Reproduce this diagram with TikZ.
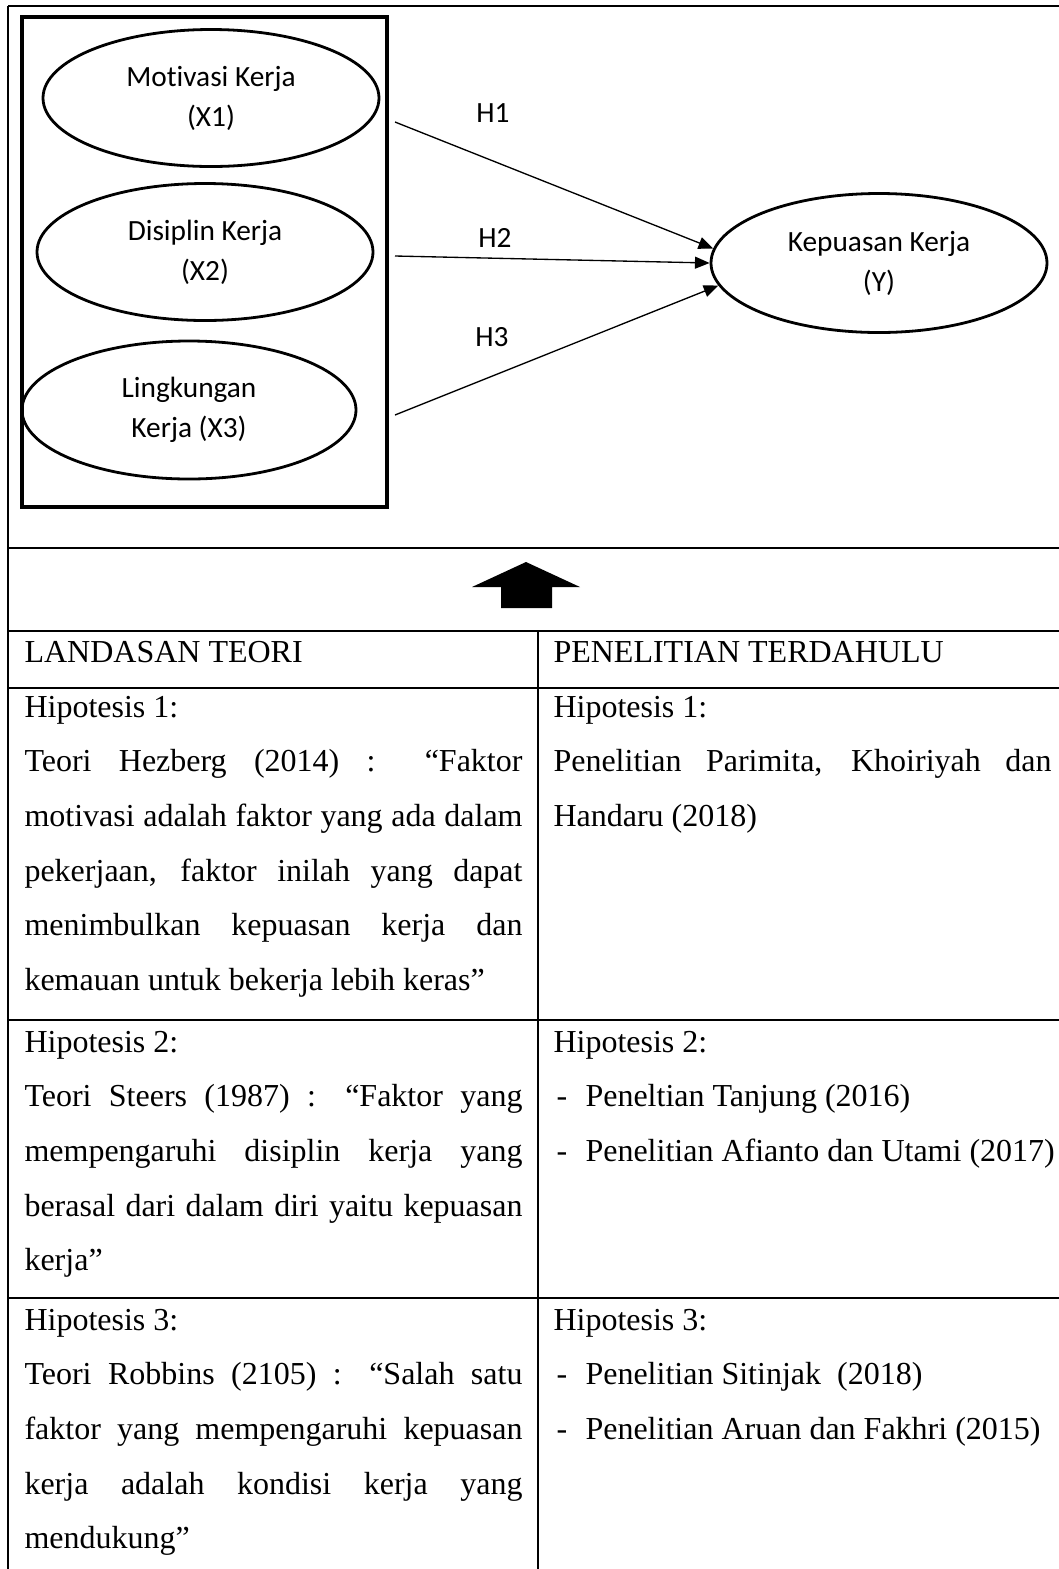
\documentclass[tikz,border=0pt]{standalone}
\usepackage{fontspec}
\setmainfont{Liberation Serif}
\newfontfamily\carlito[Ligatures={NoCommon,NoContextual}]{Carlito}
\usetikzlibrary{arrows.meta,shapes.geometric}
\newcommand\jline[1]{\makebox[186.75pt][s]{#1}}
\begin{document}
\begin{tikzpicture}[x=0.375pt,y=-0.375pt,
  oval/.style={draw,line width=1.05pt,ellipse,inner sep=0pt,align=center,font=\carlito\fontsize{11}{15}\selectfont},
  hlabel/.style={inner sep=0pt,font=\carlito\fontsize{11}{13}\selectfont},
  conn/.style={line width=0.5pt,-{Triangle[length=5.5pt,width=4.5pt]}},
  grid/.style={line width=1pt},
  cell/.style={inner sep=0pt,anchor=base west,font=\fontsize{12}{14}\selectfont},
]
\useasboundingbox (0,0) rectangle (1059,1569);
\clip (0,0) rectangle (1059,1569);

% table grid
\draw[grid] (8,6) -- (1059,6);
\draw[grid] (8,548) -- (1059,548);
\draw[grid] (8,631) -- (1059,631);
\draw[grid] (8,688) -- (1059,688);
\draw[grid] (8,1020) -- (1059,1020);
\draw[grid] (8,1298) -- (1059,1298);
\draw[grid] (8,6) -- (8,1569);
\draw[grid] (538,631) -- (538,1569);

% diagram
\node[draw,line width=1.2pt,inner sep=0pt,minimum width={365*0.375pt},minimum height={490*0.375pt}] (box) at (204.5,262) {};
\node[oval,minimum width={336*0.375pt},minimum height={137*0.375pt}] (x1) at (211,98) {Mot\kern0pt ivasi Kerja\\(X1)};
\node[oval,minimum width={336*0.375pt},minimum height={137*0.375pt}] (x2) at (205,252) {Disiplin Kerja\\(X2)};
\node[oval,minimum width={334*0.375pt},minimum height={138*0.375pt}] (x3) at (189,410) {Lingkungan\\Kerja (X3)};
\node[oval,minimum width={336*0.375pt},minimum height={139*0.375pt}] (y) at (879,263) {Kepuasan Kerja\\(Y)};

\coordinate (s1) at (395,122);
\coordinate (s2) at (395,256);
\coordinate (s3) at (395,415);
\draw[conn] (s1) -- (y.175);
\draw[conn] (s2) -- (y.180);
\draw[conn] (s3) -- (y.188);
\node[hlabel] (h1) at (493,113) {H1};
\node[hlabel] (h2) at (495,238) {H2};
\node[hlabel] (h3) at (492,337) {H3};

% block arrow
\fill (526,562) -- (580,587) -- (552,587) -- (552,608) -- (501,608) -- (501,587) -- (472,587) -- cycle;

% header
\node[cell] (l0) at (24,662) {LANDASAN TEORI};
\node[cell] (r0) at (553,662) {PENELITIAN TERDAHULU};

% row 1
\node[cell] (l1a) at (24,717) {Hipotesis 1:};
\node[cell] (l1b) at (24,771.7) {\jline{Teori Hezberg (2014) : “Faktor}};
\node[cell] (l1c) at (24,826.4) {\jline{motivasi adalah faktor yang ada dalam}};
\node[cell] (l1d) at (24,881.1) {\jline{pekerjaan, faktor inilah yang dapat}};
\node[cell] (l1e) at (24,935.8) {\jline{menimbulkan kepuasan kerja dan}};
\node[cell] (l1f) at (24,990.5) {kemauan untuk bekerja lebih keras”};
\node[cell] (r1a) at (553,717) {Hipotesis 1:};
\node[cell] (r1b) at (553,771.7) {\jline{Penelitian Parimita, Khoiriyah dan}};
\node[cell] (r1c) at (553,826.4) {Handaru (2018)};

% row 2
\node[cell] (l2a) at (24,1052) {Hipotesis 2:};
\node[cell] (l2b) at (24,1106.7) {\jline{Teori Steers (1987) : “Faktor yang}};
\node[cell] (l2c) at (24,1161.4) {\jline{mempengaruhi disiplin kerja yang}};
\node[cell] (l2d) at (24,1216.1) {\jline{berasal dari dalam diri yaitu kepuasan}};
\node[cell] (l2e) at (24,1270.8) {kerja”};
\node[cell] (r2a) at (553,1052) {Hipotesis 2:};
\node[cell] (r2b) at (556,1106.7) {-};
\node[cell] (r2c) at (585,1106.7) {Peneltian Tanjung (2016)};
\node[cell] (r2d) at (556,1161.4) {-};
\node[cell] (r2e) at (585,1161.4) {Penelitian Afianto dan Utami (2017)};

% row 3
\node[cell] (l3a) at (24,1330) {Hipotesis 3:};
\node[cell] (l3b) at (24,1384.7) {\jline{Teori Robbins (2105) : “Salah satu}};
\node[cell] (l3c) at (24,1439.4) {\jline{faktor yang mempengaruhi kepuasan}};
\node[cell] (l3d) at (24,1494.1) {\jline{kerja adalah kondisi kerja yang}};
\node[cell] (l3e) at (24,1548.8) {mendukung”};
\node[cell] (r3a) at (553,1330) {Hipotesis 3:};
\node[cell] (r3b) at (556,1384.7) {-};
\node[cell] (r3c) at (585,1384.7) {Penelitian Sitinjak\ \ (2018)};
\node[cell] (r3d) at (556,1439.4) {-};
\node[cell] (r3e) at (585,1439.4) {Penelitian Aruan dan Fakhri (2015)};
\end{tikzpicture}
\end{document}
